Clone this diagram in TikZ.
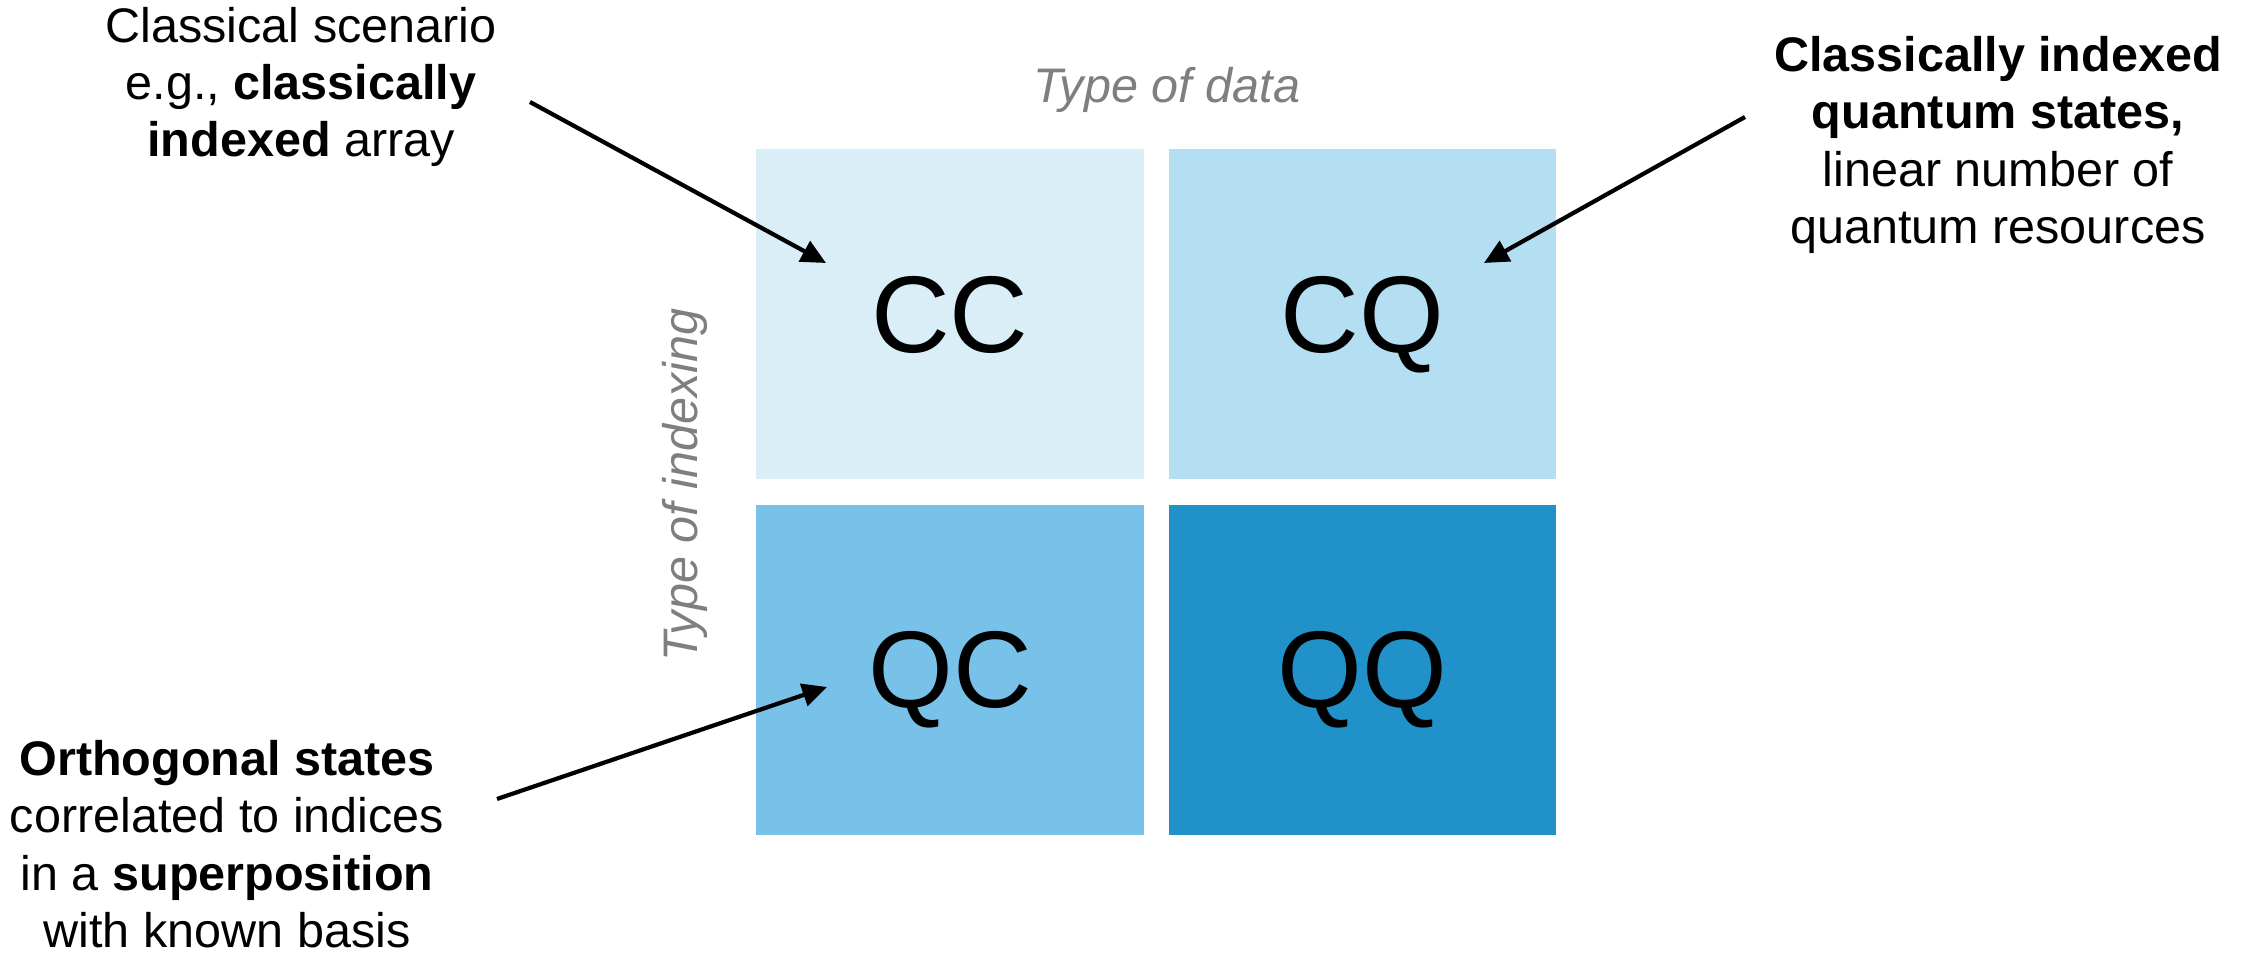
\documentclass[tikz,border=0pt]{standalone}
\usepackage{fontspec}
\setmainfont{Liberation Sans}
\usetikzlibrary{arrows.meta, positioning}

\definecolor{cellCC}{RGB}{218,238,247}
\definecolor{cellCQ}{RGB}{180,222,242}
\definecolor{cellQC}{RGB}{120,193,232}
\definecolor{cellQQ}{RGB}{33,145,201}
\definecolor{axisgray}{RGB}{127,127,127}

\tikzset{
  cell/.style={minimum width=3.87cm, minimum height=3.3cm, inner sep=0pt,
    text depth=0pt, font=\fontsize{31}{36}\selectfont},
  note/.style={align=center, inner sep=0pt, font=\fontsize{13.8}{16.3}\selectfont},
  axislabel/.style={inner sep=0pt, text=axisgray, font=\fontsize{13.8}{16.3}\selectfont\itshape},
  pointer/.style={-{Triangle[length=7pt,width=6.5pt]}, line width=1.2pt},
}

\begin{document}
\begin{tikzpicture}[x=0.01cm, y=-0.01cm]
        \useasboundingbox (0,0) rectangle (2244,955);

        % The four kinds of memory
        \node[cell, fill=cellCC] (cc) at (950,314) {CC};
        \node[cell, fill=cellCQ, right=0.24cm of cc] (cq) {CQ};
        \node[cell, fill=cellQC, below=0.24cm of cc] (qc) {QC};
        \node[cell, fill=cellQQ, below=0.24cm of cq] (qq) {QQ};

        % Axes
        \node[axislabel] (datatype) at (1167,90) {Type of data};
        \node[axislabel, rotate=90] (indextype) at (685,485) {Type of indexing};

        % Notes
        \node[note] (ccnote) at (301,87)
            {Classical scenario\\e.g., \textbf{classically}\\\textbf{indexed} array};
        \node[note] (cqnote) at (1998,145)
            {\textbf{Classically indexed}\\\textbf{quantum states,}\\linear number of\\quantum resources};
        \node[note] (qcnote) at (227,844)
            {\textbf{Orthogonal states}\\correlated to indices\\in a \textbf{superposition}\\with known basis};

        % Pointers from the notes
        \coordinate (ccfrom) at (530,102);
        \coordinate (ccto) at (826,263);
        \coordinate (cqfrom) at (1745,117);
        \coordinate (cqto) at (1484,263);
        \coordinate (qcfrom) at (497,799);
        \coordinate (qcto) at (827,687);
        \foreach \a/\b in {ccfrom/ccto, cqfrom/cqto, qcfrom/qcto} {
                \draw[pointer] (\a) -- (\b);
            }
    \end{tikzpicture}
\end{document}
